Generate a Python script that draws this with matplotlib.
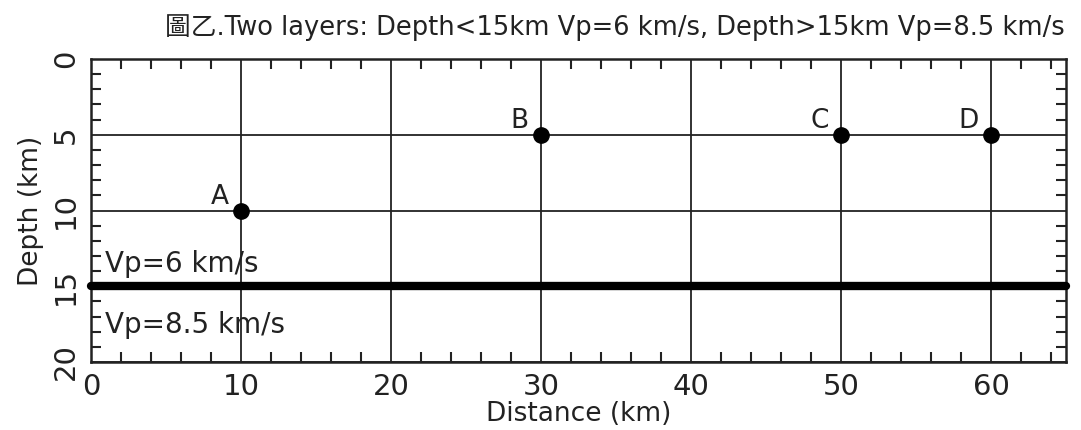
"""
plot.py

Two-layer velocity model: station/source locations on a distance-depth section.
"""

import matplotlib
matplotlib.use("Agg")
import matplotlib.pyplot as plt
from matplotlib.ticker import MultipleLocator

plt.rcParams['font.family'] = ['DejaVu Sans', 'Noto Sans CJK TC']

# point data
labels = ['A', 'B', 'C', 'D']
dist_km = [10, 30, 50, 60]
depth_km = [10, 5, 5, 5]

# layer boundary and velocities
boundary_depth = 15
vp_top = 6
vp_bottom = 8.5

x_ticks = [0, 10, 20, 30, 40, 50, 60]
y_ticks = [0, 5, 10, 15, 20]

title = '圖乙.Two layers: Depth<15km Vp=6 km/s, Depth>15km Vp=8.5 km/s'

fig = plt.figure(figsize=(10.81, 4.30), dpi=100)
ax = fig.add_axes([0.0842, 0.158, 0.9019, 0.7048])

ax.set_xlim(0, 65)
ax.set_ylim(20, 0)

ax.set_xticks(x_ticks)
ax.set_yticks(y_ticks)
ax.xaxis.set_minor_locator(MultipleLocator(2))
ax.yaxis.set_minor_locator(MultipleLocator(1))
ax.tick_params(which='major', length=0, labelsize=21, pad=8, colors='#222222')
ax.tick_params(which='minor', direction='in', length=7, width=1.5,
               top=True, right=True, color='#222222')
for lab in ax.get_yticklabels():
    lab.set_rotation(90)
    lab.set_va('center')

ax.grid(True, which='major', color='#222222', lw=1.3)
for sp in ax.spines.values():
    sp.set_linewidth(1.8)
    sp.set_color('#222222')

# layer boundary
ax.plot([0, 65], [boundary_depth, boundary_depth], color='black', lw=6,
        solid_capstyle='round', clip_on=False, zorder=4)

ax.plot(dist_km, depth_km, 'o', color='black', ms=11, zorder=5)
for name, x, y in zip(labels, dist_km, depth_km):
    ax.annotate(name, (x, y), xytext=(-9, 5), textcoords='offset points',
                ha='right', va='baseline', fontsize=19, color='#222222')

ax.text(0.93, 14.05, f'Vp={vp_top} km/s', fontsize=20, va='baseline', color='#222222')
ax.text(0.93, 18.1, f'Vp={vp_bottom} km/s', fontsize=20, va='baseline', color='#222222')

ax.set_xlabel('Distance (km)', fontsize=19, labelpad=0, color='#222222')
ax.set_ylabel('Depth (km)', fontsize=19, labelpad=6, color='#222222')

fig.text(0.985, 0.918, title, ha='right', va='baseline', fontsize=18.5, color='#222222')

fig.savefig('out.png', dpi=100)
